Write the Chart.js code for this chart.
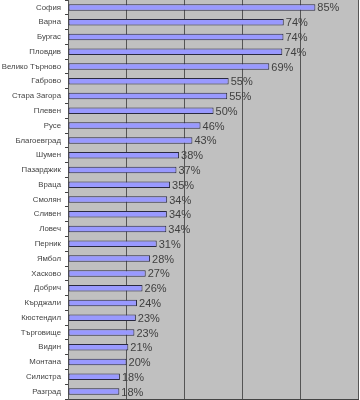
<!DOCTYPE html>
<html>
<head>
<meta charset="utf-8">
<script src="https://cdn.jsdelivr.net/npm/chart.js@4/dist/chart.umd.min.js"></script>
<style>
html,body{margin:0;padding:0;background:#fff;}
#wrap{width:360px;height:400px;position:relative;}
</style>
</head>
<body>
<div id="wrap"><canvas id="c" width="360" height="400"></canvas></div>
<script>
const categories = ["София","Варна","Бургас","Пловдив","Велико Търново","Габрово","Стара Загора","Плевен","Русе","Благоевград","Шумен","Пазарджик","Враца","Смолян","Сливен","Ловеч","Перник","Ямбол","Хасково","Добрич","Кърджали","Кюстендил","Търговище","Видин","Монтана","Силистра","Разград"];
const values = [85.3,74.4,74.3,73.9,69.4,55.4,54.9,50.2,45.7,42.9,38.3,37.4,35.2,34.2,34.1,33.9,30.6,28.3,26.8,25.7,23.8,23.4,22.9,20.8,20.2,17.9,17.7];
const valueLabels = ["85%","74%","74%","74%","69%","55%","55%","50%","46%","43%","38%","37%","35%","34%","34%","34%","31%","28%","27%","26%","24%","23%","23%","21%","20%","18%","18%"];

const FONT = "'Liberation Sans', Arial, sans-serif";

const plotBg = {
  id: 'plotBg',
  beforeDraw(chart) {
    const {ctx, chartArea: a} = chart;
    ctx.save();
    ctx.fillStyle = '#c0c0c0';
    ctx.fillRect(a.left, a.top, a.right - a.left, a.bottom - a.top);
    ctx.restore();
  }
};

const valueLabelPlugin = {
  id: 'valueLabels',
  afterDatasetsDraw(chart) {
    const {ctx} = chart;
    const meta = chart.getDatasetMeta(0);
    ctx.save();
    ctx.font = '11px ' + FONT;
    ctx.fillStyle = '#404040';
    ctx.textAlign = 'left';
    ctx.textBaseline = 'middle';
    meta.data.forEach((bar, i) => {
      ctx.fillText(valueLabels[i], bar.x + 2, bar.y + 1);
    });
    ctx.restore();
  }
};

new Chart(document.getElementById('c'), {
  type: 'bar',
  data: {
    labels: categories,
    datasets: [{
      data: values,
      backgroundColor: '#9999ff',
      borderColor: '#2a2a40',
      borderWidth: 1,
      borderSkipped: false,
      categoryPercentage: 1,
      barPercentage: 0.44
    }]
  },
  options: {
    indexAxis: 'y',
    responsive: false,
    animation: false,
    devicePixelRatio: 1,
    layout: {padding: {left: 0, right: 2, top: 0, bottom: 1}},
    plugins: {legend: {display: false}, tooltip: {enabled: false}},
    scales: {
      x: {
        min: 0, max: 100,
        ticks: {display: false, stepSize: 20},
        grid: {color: '#555555', lineWidth: 1, drawTicks: false},
        border: {display: true, color: '#444444'},
        afterFit(s) { s.height = 0; s.paddingLeft = 0; s.paddingRight = 0; }
      },
      y: {
        ticks: {
          autoSkip: false,
          padding: 4,
          color: '#444444',
          font: {family: FONT, size: 7.8}
        },
        grid: {offset: true, drawOnChartArea: false, drawTicks: true, tickLength: 3, color: '#444444'},
        border: {display: true, color: '#555555'},
        afterFit(s) { s.width = 68; s.paddingTop = 0; s.paddingBottom = 0; }
      }
    }
  },
  plugins: [plotBg, valueLabelPlugin]
});
</script>
</body>
</html>
